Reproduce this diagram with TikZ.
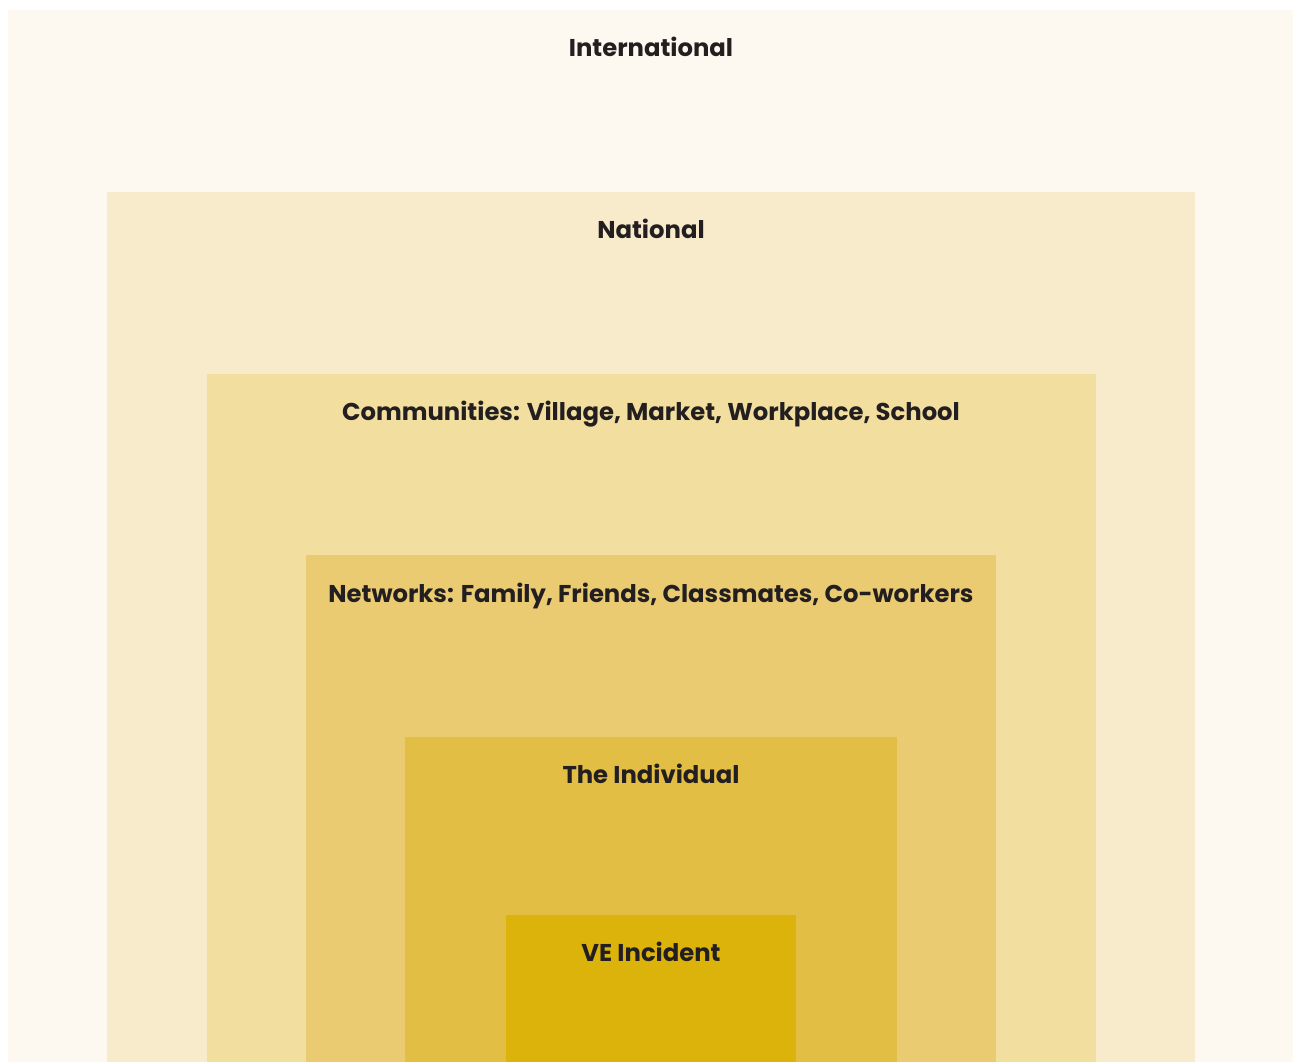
\documentclass[tikz,border=0pt]{standalone}
\usepackage{fontspec}
\setmainfont{Poppins}
\definecolor{cIntl}{HTML}{FDF9F0}
\definecolor{cNat}{HTML}{F7EBCB}
\definecolor{cComm}{HTML}{F2DE9E}
\definecolor{cNet}{HTML}{EACB72}
\definecolor{cInd}{HTML}{E2BE45}
\definecolor{cVE}{HTML}{DCB30A}
\definecolor{cText}{HTML}{231F20}
\begin{document}
\begin{tikzpicture}[x=1pt,y=-1pt,
  lbl/.style={text=cText,font=\fontsize{24.3}{28}\selectfont\bfseries,inner sep=0pt,anchor=base}]
\useasboundingbox (0,0) rectangle (1293,1062);
\fill[white] (0,0) rectangle (1293,1062);
\fill[cIntl] (8,10) rectangle (1293,1062);
\fill[cNat] (107,192) rectangle (1195,1062);
\fill[cComm] (207,374) rectangle (1096,1062);
\fill[cNet] (306,555) rectangle (996,1062);
\fill[cInd] (405,737) rectangle (897,1062);
\fill[cVE] (506,915) rectangle (796,1062);
\node[lbl] (intl) at (651,57) {International};
\node[lbl] (nat) at (651,238) {National};
\node[lbl] (comm) at (651,420) {Communities: Village, Market, Workplace, School};
\node[lbl] (net) at (651,602) {Networks: Family, Friends, Classmates, Co-workers};
\node[lbl] (ind) at (651,783) {The Individual};
\node[lbl] (ve) at (651,961) {VE Incident};
\end{tikzpicture}
\end{document}
